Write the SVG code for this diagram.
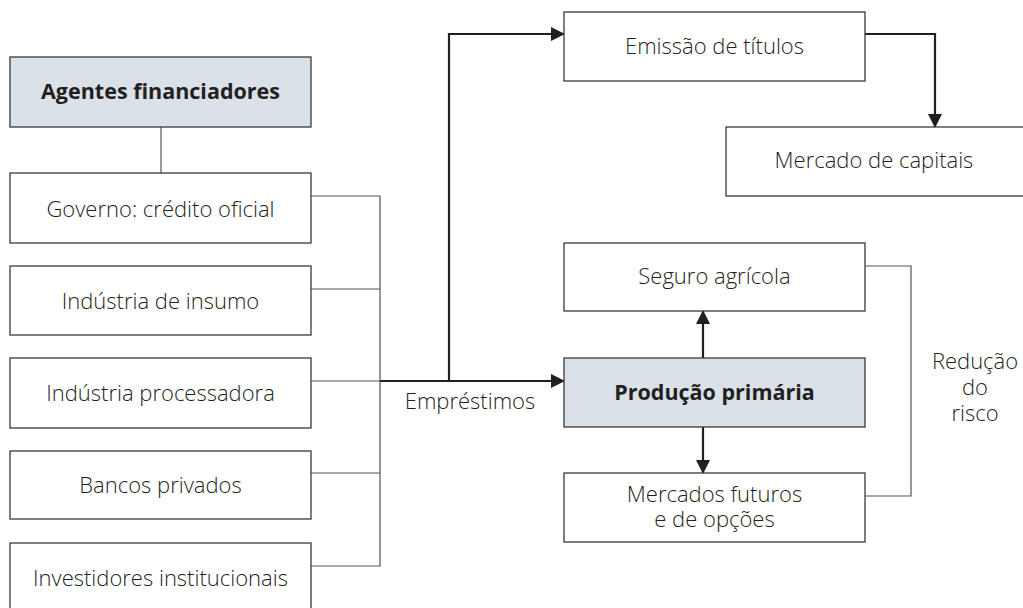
<svg xmlns="http://www.w3.org/2000/svg" width="1023" height="608" viewBox="0 0 1023 608">
<defs>
<style>
.box{fill:#fff;stroke:#3a3a3a;stroke-width:1.3}
.hl{fill:#dae1e8;stroke:#3a3a3a;stroke-width:1.3}
.t{font-family:"Open Sans","Noto Sans",sans-serif;font-size:22px;font-weight:300;fill:#231f20;text-anchor:middle}
.b{font-weight:bold;font-size:21.5px}
.thin{fill:none;stroke:#555;stroke-width:1.2}
.thick{fill:none;stroke:#231f20;stroke-width:2.2}
</style>
<marker id="ah" markerWidth="14" markerHeight="14" viewBox="0 0 14 14" refX="13" refY="7" orient="auto" markerUnits="userSpaceOnUse">
<path d="M0,0 L14,7 L0,14 Z" fill="#231f20"/>
</marker>
</defs>
<rect width="1023" height="608" fill="#fff"/>
<g id="connectors">
<line class="thin" x1="161" y1="127" x2="161" y2="173"/>
<path class="thin" d="M311,196 H380 V566 H311 M311,289 H380 M311,473 H380 M311,381 H380"/>
<line class="thick" x1="380" y1="381" x2="564" y2="381" marker-end="url(#ah)"/>
<path class="thick" d="M449,381 V34 H564" marker-end="url(#ah)"/>
<path class="thick" d="M865,34 H935 V127" marker-end="url(#ah)"/>
<line class="thick" x1="703" y1="358" x2="703" y2="311" marker-end="url(#ah)"/>
<line class="thick" x1="703" y1="427" x2="703" y2="473" marker-end="url(#ah)"/>
<path class="thin" d="M865,266 H911 V496 H865"/>
</g>
<g id="agentes"><rect class="hl" x="10" y="57" width="301" height="70"/><text class="t b" x="160.5" y="99">Agentes financiadores</text></g>
<g id="governo"><rect class="box" x="10" y="173" width="301" height="70"/><text class="t" x="160.5" y="217">Governo: crédito oficial</text></g>
<g id="insumo"><rect class="box" x="10" y="266" width="301" height="69"/><text class="t" x="160.5" y="309">Indústria de insumo</text></g>
<g id="processadora"><rect class="box" x="10" y="358" width="301" height="70"/><text class="t" x="160.5" y="401">Indústria processadora</text></g>
<g id="bancos"><rect class="box" x="10" y="451" width="301" height="68"/><text class="t" x="160.5" y="493">Bancos privados</text></g>
<g id="investidores"><rect class="box" x="10" y="543" width="301" height="70"/><text class="t" x="160.5" y="586">Investidores institucionais</text></g>
<g id="emprestimos-label"><text class="t" x="470" y="409">Empréstimos</text></g>
<g id="emissao"><rect class="box" x="564" y="12" width="301" height="69"/><text class="t" x="714.5" y="54">Emissão de títulos</text></g>
<g id="mercado-capitais"><rect class="box" x="726" y="127" width="310" height="69"/><text class="t" x="874" y="168">Mercado de capitais</text></g>
<g id="seguro"><rect class="box" x="564" y="243" width="301" height="68"/><text class="t" x="714.5" y="284">Seguro agrícola</text></g>
<g id="producao"><rect class="hl" x="564" y="358" width="301" height="69"/><text class="t b" x="714.5" y="400">Produção primária</text></g>
<g id="futuros"><rect class="box" x="564" y="473" width="301" height="69"/><text class="t" x="714.5" y="502">Mercados futuros</text><text class="t" x="714.5" y="527">e de opções</text></g>
<g id="reducao-label"><text class="t" x="975" y="369">Redução</text><text class="t" x="975" y="395">do</text><text class="t" x="975" y="421">risco</text></g>
</svg>
